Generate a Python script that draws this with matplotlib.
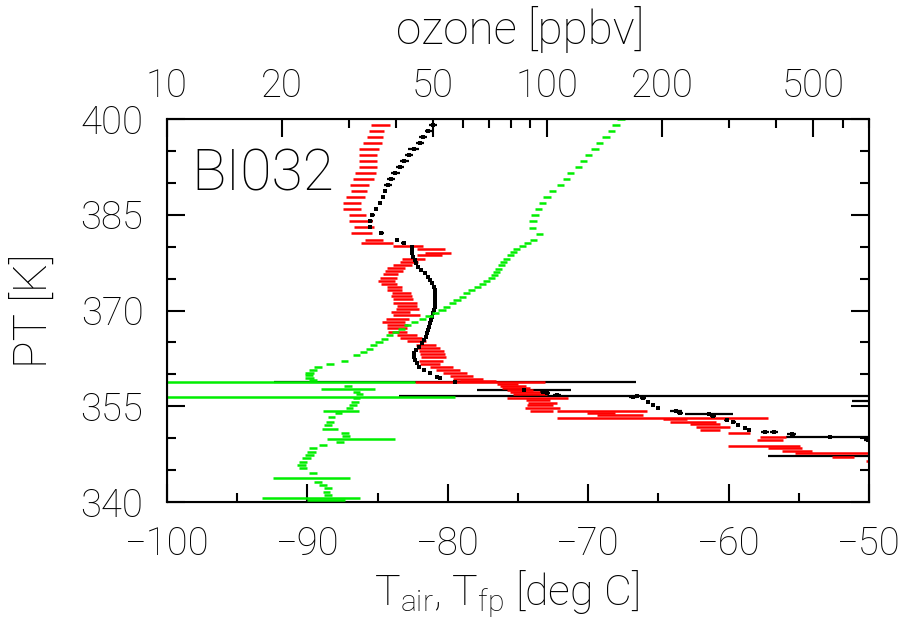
import matplotlib
matplotlib.use("Agg")
import matplotlib.pyplot as plt
from matplotlib.ticker import FixedLocator, NullFormatter, FixedFormatter

plt.rcParams['font.family'] = ['Roboto', 'DejaVu Sans']
plt.rcParams['font.weight'] = 'light'
plt.rcParams['mathtext.default'] = 'regular'

# frost point temperature (red), with uncertainty
fp_pt = [399.06, 398.12, 397.18, 396.24, 395.30, 394.36, 393.42, 392.48, 391.54, 390.60,
         389.66, 388.72, 387.78, 386.84, 385.90, 384.96, 384.02, 383.08, 382.14, 381.09,
         380.57,
         380.10, 379.59, 379.05, 378.65, 378.11, 377.64, 377.13, 376.61, 376.14, 375.67,
         375.14, 374.67, 374.15, 373.68, 373.21, 372.69, 372.22, 371.75, 371.22, 370.75,
         370.23, 369.72, 369.25, 368.71, 368.24, 367.73, 367.21, 366.68, 366.16, 365.69,
         365.17, 364.64, 364.12, 363.65, 363.14, 362.67, 362.13, 361.62,
         361.19, 360.68, 360.16, 359.74, 359.31, 359.00, 358.80, 358.48, 358.17, 357.86,
         357.54, 357.23, 356.92, 356.34, 355.98, 355.55, 355.19, 354.68, 354.30, 354.25,
         353.99, 353.63, 353.20, 352.95, 352.58, 352.22, 351.79, 351.28, 350.76, 350.13,
         349.71, 348.77, 348.41, 348.03, 347.72, 347.09, 346.47]
fp_t = [-84.78, -85.09, -85.21, -85.36, -85.63, -85.68, -85.68, -85.67, -85.86, -85.99,
        -86.27, -86.31, -86.57, -86.82, -86.80, -86.43, -86.22, -85.95, -86.16, -85.26,
        -85.04,
        -82.83, -81.21, -80.71, -81.30, -82.46, -82.75, -83.23, -83.68, -83.85, -84.08,
        -84.24, -84.35, -84.21, -83.82, -83.77, -83.31, -83.30, -83.19, -83.03, -82.93,
        -82.86, -83.38, -82.93, -83.60, -83.88, -83.58, -83.60, -83.55, -82.91, -82.64,
        -82.24, -81.55, -81.39, -81.15, -81.09, -81.03, -81.18, -81.25,
        -80.45, -79.99, -79.49, -78.99, -78.56, -77.85, -77.71, -75.75, -75.36, -75.14,
        -74.86, -74.50, -74.15, -73.61, -73.58, -73.25, -73.43, -73.25, -73.31, -69.04,
        -69.10, -67.74, -64.71, -63.82, -62.54, -61.68, -61.11, -61.32, -59.26, -56.84,
        -57.05, -57.48, -55.98, -55.13, -52.68, -51.85, -49.60]
fp_err = [0.67, 0.54, 0.57, 0.66, 0.72, 0.62, 0.62, 0.63, 0.75, 0.74,
          0.69, 0.58, 0.68, 0.62, 0.64, 0.58, 0.82, 0.72, 0.74, 0.66,
          1.16,
          1.05, 1.01, 0.92, 0.87, 0.83, 0.65, 0.65, 0.63, 0.63, 0.56,
          0.59, 0.59, 0.57, 0.53, 0.53, 0.67, 0.72, 0.69, 0.85, 0.71,
          0.83, 0.69, 0.95, 0.81, 0.83, 0.77, 0.71, 0.68, 0.74, 0.77,
          0.69, 0.71, 0.83, 0.88, 0.89, 0.90, 0.85, 0.73,
          0.82, 0.83, 0.84, 0.82, 1.07, 1.31, 4.63, 0.77, 0.95, 1.01,
          0.95, 1.07, 1.19, 2.19, 0.83, 1.01, 0.95, 1.25, 0.83, 3.20,
          1.01, 1.66, 7.54, 0.84, 1.66, 1.07, 1.19, 0.71, 0.78, 0.95,
          0.95, 2.55, 1.19, 1.07, 2.60, 0.77, 0.60]

# air temperature (black)
air_pt = [399.06, 398.12, 397.18, 396.24, 395.30, 394.36, 393.42, 392.48, 391.54, 390.60,
          389.66, 388.72, 387.78, 386.84, 385.90, 384.96, 384.02, 383.08, 382.14, 381.09,
          380.57,
          379.99, 379.48, 378.96, 378.43, 377.91, 377.39, 376.86, 376.34, 375.83, 375.29,
          374.78, 374.26, 373.73, 373.21, 372.69, 372.16, 371.64, 371.13, 370.59, 370.08,
          369.56, 369.03, 368.51, 367.99, 367.46, 366.94, 366.43, 365.89, 365.38, 364.86,
          364.33, 363.81, 363.29, 362.76, 362.24, 361.73, 361.19, 360.68, 360.16, 359.63,
          359.42,
          358.80, 357.54, 357.20, 357.00, 356.80, 356.60, 356.45, 356.24, 355.87, 355.71,
          355.19, 354.68, 354.30, 353.99, 353.74, 353.46, 352.84, 352.58, 352.06, 351.54,
          351.28, 351.01, 350.92, 350.65, 350.34, 350.13, 349.71, 347.20]
air_t = [-81.05, -81.39, -81.74, -81.98, -82.42, -82.75, -83.10, -83.42, -83.73, -84.05,
         -84.26, -84.45, -84.63, -84.84, -85.11, -85.38, -85.51, -85.54, -84.74, -83.64,
         -83.14,
         -82.57, -82.57, -82.55, -82.46, -82.34, -82.26, -82.14, -81.93, -81.65, -81.43,
         -81.27, -81.13, -81.00, -80.93, -80.91, -80.89, -80.89, -80.91, -80.93, -80.98,
         -81.05, -81.15, -81.22, -81.29, -81.36, -81.41, -81.46, -81.55, -81.70, -81.86,
         -82.03, -82.26, -82.41, -82.43, -82.34, -82.21, -82.03, -81.70, -81.27, -80.75,
         -80.56,
         -79.50, -74.57, -73.20, -72.90, -72.20, -66.50, -66.80, -66.08, -47.50, -65.72,
         -65.36, -65.01, -63.75, -63.46, -61.40, -61.11, -60.14, -59.66, -59.31, -58.83,
         -58.53, -57.41, -56.77, -55.51, -55.39, -52.80, -50.07, -48.00]
air_err = [0.26, 0.24, 0.28, 0.29, 0.39, 0.30, 0.31, 0.30, 0.32, 0.31,
           0.26, 0.14, 0.13, 0.15, 0.14, 0.17, 0.15, 0.10, 0.19, 0.12,
           0.17,
           0.10, 0.10, 0.10, 0.10, 0.10, 0.10, 0.10, 0.10, 0.10, 0.10,
           0.10, 0.10, 0.10, 0.10, 0.10, 0.10, 0.10, 0.10, 0.10, 0.10,
           0.10, 0.10, 0.10, 0.10, 0.10, 0.10, 0.10, 0.10, 0.10, 0.10,
           0.10, 0.10, 0.10, 0.10, 0.10, 0.10, 0.10, 0.10, 0.10, 0.10,
           0.10,
           12.9, 3.38, 0.20, 0.20, 0.30, 17.0, 0.30, 0.20, 3.70, 0.15,
           0.15, 0.15, 0.45, 0.20, 1.72, 0.20, 0.20, 0.20, 0.15, 0.15,
           0.15, 0.30, 0.30, 0.30, 0.15, 3.10, 0.30, 9.20]

# ozone (green), ppbv
o3_pt = [399.94, 399.06, 398.12, 397.18, 396.24, 395.30, 394.36, 393.42, 392.48, 391.54,
         390.60, 389.66, 388.72, 387.78, 386.84, 385.90, 384.91, 383.97, 382.97, 381.98,
         381.04, 380.57, 380.10, 379.63, 379.11, 378.64, 378.11, 377.60, 377.08, 376.56,
         376.09, 375.62, 375.15, 374.68, 374.15, 373.68, 373.21, 372.69, 372.16, 371.64,
         371.13, 370.59, 370.08, 369.66, 369.14, 368.72, 368.19, 367.67, 367.15, 366.63,
         366.11, 365.58, 365.07, 364.55, 364.02, 363.50, 362.98, 362.13, 361.62,
         361.10, 360.68, 360.25, 359.85, 359.42, 359.11, 358.80, 358.17, 357.65, 357.28,
         356.92, 356.50, 356.24, 355.71, 355.19, 354.68, 354.30, 353.89, 353.27, 352.58,
         352.06, 351.39, 350.76, 350.34, 349.91, 349.44, 348.93, 348.41, 347.88, 347.36,
         346.84, 346.31, 345.79, 345.28, 344.49, 343.71, 343.18, 342.66, 342.14, 341.61,
         341.09, 340.67, 340.31]
o3_val = [156.1, 151.5, 147.2, 142.6, 137.2, 133.4, 128.1, 124.3, 120.4, 115.1,
          112.4, 108.2, 103.3, 99.8, 97.2, 94.9, 92.8, 91.7, 91.2, 95.5,
          91.9, 88.8, 86.1, 83.1, 81.6, 80.0, 77.9, 76.8, 75.7, 74.5,
          73.6, 72.6, 71.2, 69.3, 67.4, 65.4, 63.1, 61.2, 59.7, 57.8,
          56.2, 54.4, 52.9, 50.8, 48.8, 46.9, 44.8, 43.0, 41.3, 39.9,
          38.5, 37.3, 36.1, 34.9, 34.0, 32.8, 31.5, 29.3, 26.8,
          24.9, 24.2, 23.7, 23.6, 23.7, 24.2, 27.0, 29.9, 30.3, 31.5,
          32.1, 31.7, 31.5, 31.2, 30.8, 30.2, 28.8, 28.2, 27.1, 26.8,
          26.5, 26.8, 29.3, 29.6, 33.0, 28.5, 25.7, 24.2, 24.0, 23.7,
          23.3, 22.8, 22.6, 22.8, 24.2, 24.6, 24.9, 25.7, 26.5, 26.3,
          26.5, 25.0, 26.3]
o3_err = [3.4, 3.3, 3.2, 3.1, 3.0, 2.9, 2.8, 2.7, 2.6, 2.5,
          2.5, 2.4, 2.3, 2.2, 2.1, 2.1, 2.0, 2.0, 2.0, 2.1,
          2.0, 1.9, 1.9, 1.8, 1.8, 1.8, 1.7, 1.7, 1.7, 1.6,
          1.6, 1.6, 1.6, 1.5, 1.5, 1.4, 1.4, 1.3, 1.3, 1.3,
          1.2, 1.2, 1.2, 1.1, 1.1, 1.0, 1.0, 0.9, 0.9, 0.9,
          0.8, 0.8, 0.8, 0.8, 0.7, 0.7, 0.7, 0.6, 0.6,
          0.6, 0.6, 0.6, 0.6, 0.6, 0.6, 17.8, 0.7, 4.9, 0.7,
          0.7, 25.3, 0.7, 0.7, 0.7, 0.7, 3.1, 0.6, 0.6, 0.6,
          0.6, 1.3, 0.7, 0.7, 6.7, 0.7, 0.6, 0.6, 0.6, 0.6,
          0.6, 0.6, 0.6, 0.6, 0.6, 5.6, 0.6, 0.6, 0.6, 0.6,
          0.6, 7.2, 3.0]

t_ticks = [-100, -90, -80, -70, -60, -50]
pt_ticks = [340, 355, 370, 385, 400]
o3_ticks = [10, 20, 50, 100, 200, 500]
o3_minor = [30, 40, 60, 70, 80, 90, 300, 400, 600, 700]

fig = plt.figure(figsize=(9.12, 6.22), dpi=100)
ax = fig.add_axes([0.1831, 0.1929, 0.7697, 0.6158])

ax.errorbar(air_t, air_pt, xerr=air_err, fmt='s', ms=2.2, mew=0, color='black',
            ecolor='black', elinewidth=1.6, capsize=0)
ax.errorbar(fp_t, fp_pt, xerr=fp_err, fmt='none', ecolor='red',
            elinewidth=1.8, capsize=0)

ax.set_xlim(-100, -50)
ax.set_ylim(340, 400)
ax.set_xticks(t_ticks)
ax.set_xticks(range(-95, -50, 10), minor=True)
ax.set_yticks(pt_ticks)
ax.set_yticks(range(345, 400, 5), minor=True)
ax.tick_params(axis='both', which='both', direction='in', width=1.5,
               labelsize=27.5, top=False, right=True)
ax.tick_params(axis='both', which='major', length=13)
ax.tick_params(axis='both', which='minor', length=6.5)
ax.tick_params(axis='x', pad=17)
ax.tick_params(axis='y', pad=17)
for s in ax.spines.values():
    s.set_linewidth(1.5)

ax2 = ax.twiny()
ax2.errorbar(o3_val, o3_pt, xerr=o3_err, fmt='none', ecolor='#00ee00',
             elinewidth=1.8, capsize=0)
ax2.set_xscale('log')
ax2.set_xlim(10, 700)
ax2.xaxis.set_major_locator(FixedLocator(o3_ticks))
ax2.xaxis.set_major_formatter(FixedFormatter([str(v) for v in o3_ticks]))
ax2.xaxis.set_minor_locator(FixedLocator(o3_minor))
ax2.xaxis.set_minor_formatter(NullFormatter())
ax2.tick_params(axis='x', which='both', direction='in', width=1.5,
                labelsize=27.5, pad=10)
ax2.tick_params(axis='x', which='major', length=13)
ax2.tick_params(axis='x', which='minor', length=6.5)

ax.text(0.035, 0.925, 'BI032', transform=ax.transAxes, fontsize=41,
        ha='left', va='top')

fig.text(0.570, 0.952, 'ozone [ppbv]', fontsize=33, ha='center', va='center')
fig.text(0.036, 0.50, 'PT [K]', fontsize=33, rotation=90, ha='center', va='center')
fig.text(0.555, 0.045, r'T$_{air}$, T$_{fp}$ [deg C]', fontsize=31,
         ha='center', va='center')

fig.savefig('out.png', dpi=100)
